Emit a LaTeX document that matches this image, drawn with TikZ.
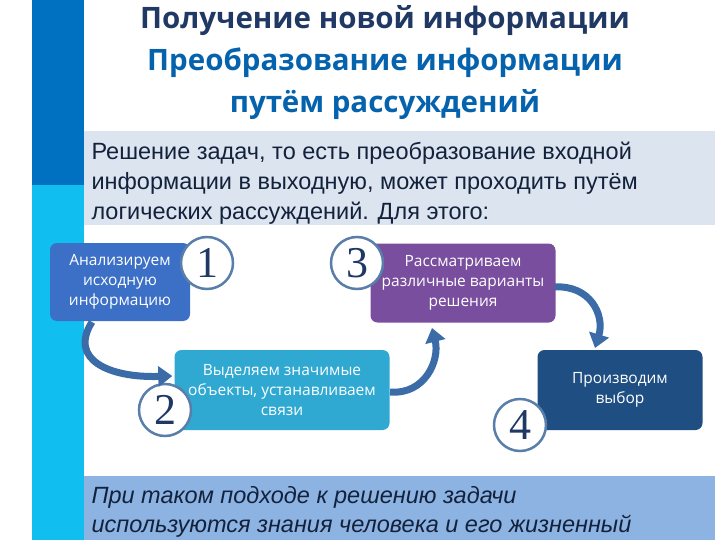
\documentclass[tikz,border=0pt]{standalone}
\usepackage{fontspec}
\setmainfont{Liberation Sans}
\newfontfamily\titlefont{Open Sans}
\newfontfamily\boxfont{Open Sans}
\newfontfamily\numfont{Liberation Serif}
\usetikzlibrary{arrows.meta}
\definecolor{navy}{HTML}{1F3864}
\definecolor{tblue}{HTML}{0563AE}
\definecolor{barA}{HTML}{0070C0}
\definecolor{barB}{HTML}{10BEF0}
\definecolor{topbox}{HTML}{DCE4EF}
\definecolor{botbox}{HTML}{8DB3E2}
\definecolor{bA}{HTML}{3C70C6}
\definecolor{bB}{HTML}{2FA9D2}
\definecolor{bC}{HTML}{7A4E9E}
\definecolor{bD}{HTML}{1F4E82}
\definecolor{ring}{HTML}{5A7EAA}
\definecolor{arr}{HTML}{3C6CA8}
\begin{document}
\begin{tikzpicture}[x=1pt,y=-1pt,
  title/.style={font=\titlefont\bfseries\fontsize{29.5}{32}\selectfont},
  stepbox/.style={rounded corners=7pt,draw=none,text=white,align=center,font=\boxfont\fontsize{15.5}{20}\selectfont},
  numc/.style={circle,draw=ring,line width=2.5pt,fill=white,minimum size=52pt,inner sep=0pt,text=navy,font=\numfont\fontsize{44}{44}\selectfont},
  barrow/.style={draw=arr,line width=7pt,-{Triangle[length=14pt,width=20pt]}},
  body/.style={anchor=west,font=\fontsize{23.5}{27}\selectfont,text=navy!60!black}]
\useasboundingbox (0,0) rectangle (720,540);
\fill[white] (0,0) rectangle (720,540);
\fill[barA] (32,0) rectangle (84,185);
\fill[barB] (32,185) rectangle (84,540);
\node[title,text=navy] (t1) at (385,21) {Получение новой информации};
\node[title,text=tblue] (t2) at (385,63) {Преобразование информации};
\node[title,text=tblue] (t3) at (385,105) {путём рассуждений};
\fill[topbox] (84,131) rectangle (715,225);
\node[body] (p1) at (88,153) {Решение задач, то есть преобразование входной};
\node[body] (p2) at (88,183) {информации в выходную, может проходить путём};
\node[body] (p3) at (88,213) {логических рассуждений. Для этого:};
\fill[botbox] (84,476) rectangle (715,540);
\node[body,font=\itshape\fontsize{23.5}{27}\selectfont] (q1) at (88,497) {При таком подходе к решению задачи};
\node[body,font=\itshape\fontsize{23.5}{27}\selectfont] (q2) at (88,526) {используются знания человека и его жизненный};
% boxes
\node[stepbox,fill=bA,minimum width=140pt,minimum height=78pt] (b1) at (120,282) {Анализируем\\исходную\\информацию};
\node[stepbox,fill=bB,minimum width=215pt,minimum height=80pt] (b2) at (282,390) {Выделяем значимые\\объекты, устанавливаем\\связи};
\node[stepbox,fill=bC,minimum width=185pt,minimum height=79pt] (b3) at (463,283) {Рассматриваем\\различные варианты\\решения};
\node[stepbox,fill=bD,minimum width=165pt,minimum height=80pt] (b4) at (620,390) {Производим\\выбор};
\node[numc] (n1) at (207,263) {1};
\node[numc] (n2) at (165,410) {2};
\node[numc] (n3) at (357,263) {3};
\node[numc] (n4) at (520,425) {4};
% arrows
\coordinate (a1s) at (92,322);
\coordinate (a2s) at (390,392);
\coordinate (a3s) at (555,287);
\draw[barrow] (a1s) .. controls (68,360) and (110,378) .. ([xshift=-2pt]b2.west |- 0,376);
\draw[barrow] (a2s) .. controls (425,395) and (440,360) .. (432,328);
\draw[barrow] (a3s) .. controls (590,285) and (605,315) .. (595,348);
\end{tikzpicture}
\end{document}
